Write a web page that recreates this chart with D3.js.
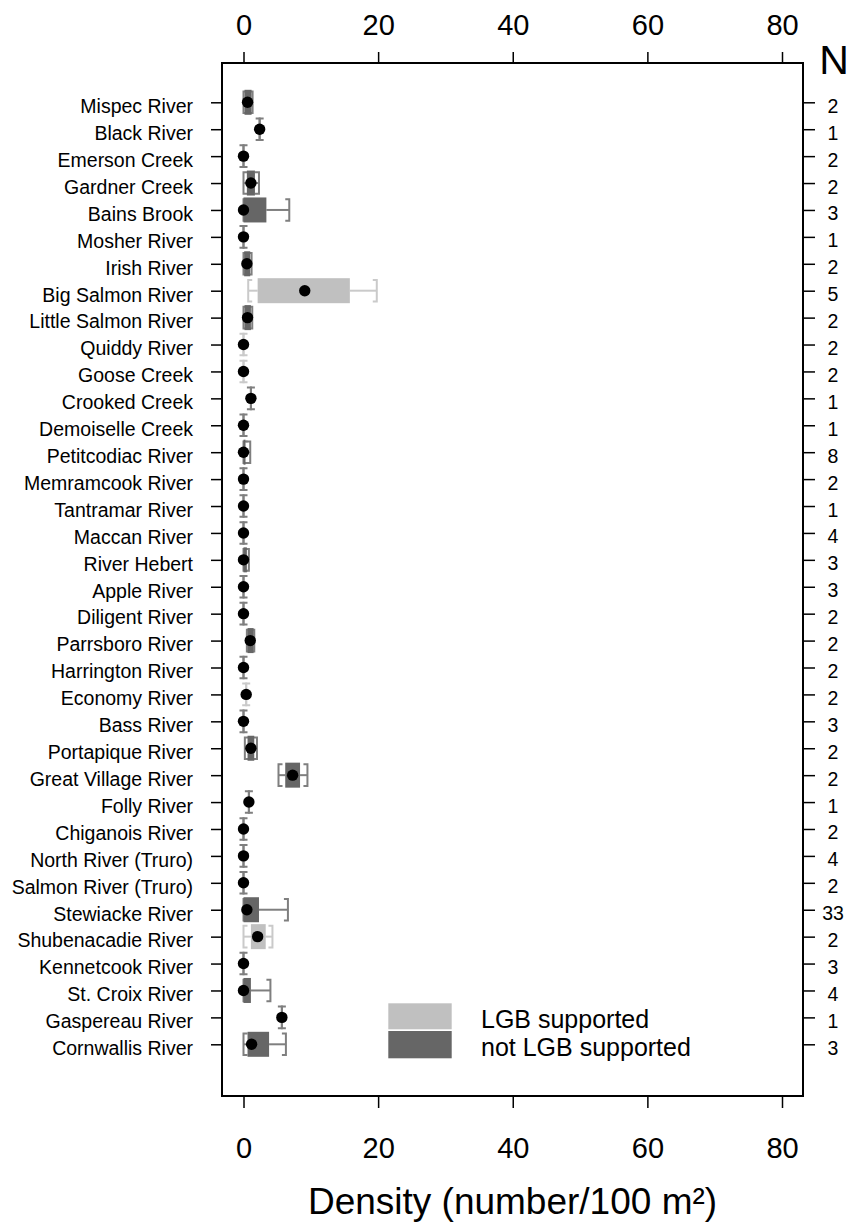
<!DOCTYPE html>
<html>
<head>
<meta charset="utf-8">
<script src="https://cdn.jsdelivr.net/npm/d3@7"></script>
<style>
  body { margin: 0; background: #fff; }
  svg { display: block; font-family: "Liberation Sans", Arial, sans-serif; }
</style>
</head>
<body>
<svg id="chart" width="851" height="1230"></svg>
<script>
// ---- data ----
const rivers = ["Mispec River","Black River","Emerson Creek","Gardner Creek","Bains Brook","Mosher River","Irish River","Big Salmon River","Little Salmon River","Quiddy River","Goose Creek","Crooked Creek","Demoiselle Creek","Petitcodiac River","Memramcook River","Tantramar River","Maccan River","River Hebert","Apple River","Diligent River","Parrsboro River","Harrington River","Economy River","Bass River","Portapique River","Great Village River","Folly River","Chiganois River","North River (Truro)","Salmon River (Truro)","Stewiacke River","Shubenacadie River","Kennetcook River","St. Croix River","Gaspereau River","Cornwallis River"];
const whiskerLow  = [0,   2.4, 0, 0,   0,   0, 0,   0.7,  0,   0, 0, 1.1, 0, 0,   0, 0, 0, 0,   0, 0, 0.5, 0, 0.4, 0, 0.2, 5.2, 0.8, 0, 0, 0, 0,   0,   0, 0,   5.7, 0];
const boxLow      = [0.15,2.4, 0, 0.5, 0,   0, 0.1, 2.1,  0.15,0, 0, 1.1, 0, 0,   0, 0, 0, 0,   0, 0, 0.6, 0, 0.4, 0, 0.6, 6.2, 0.8, 0, 0, 0, 0,   1.1, 0, 0,   5.7, 0.6];
const centre      = [0.6, 2.4, 0, 1.1, 0,   0, 0.5, 9.1,  0.6, 0, 0, 1.1, 0, 0,   0, 0, 0, 0,   0, 0, 1.0, 0, 0.4, 0, 1.1, 7.3, 0.8, 0, 0, 0, 0.5, 2.1, 0, 0,   5.7, 1.2];
const boxHigh     = [1.2, 2.4, 0, 1.7, 3.4, 0, 1.0, 15.8, 1.1, 0, 0, 1.1, 0, 0.3, 0, 0, 0, 0.5, 0, 0, 1.5, 0, 0.4, 0, 1.6, 8.4, 0.8, 0, 0, 0, 2.3, 3.3, 0, 1.1, 5.7, 3.8];
const whiskerHigh = [1.35,2.4, 0, 2.3, 6.8, 0, 1.2, 19.8, 1.3, 0, 0, 1.1, 0, 1.0, 0, 0, 0, 0.8, 0, 0, 1.6, 0, 0.4, 0, 2.0, 9.5, 0.8, 0, 0, 0, 6.6, 4.3, 0, 4.0, 5.7, 6.3];
const sampleN     = [2,1,2,2,3,1,2,5,2,2,2,1,1,8,2,1,4,3,3,2,2,2,2,3,2,2,1,2,4,2,33,2,3,4,1,3];
const lgbSupported= [0,0,0,0,0,0,0,1,0,1,1,0,0,0,0,0,0,0,0,0,0,0,1,0,0,0,0,0,0,0,0,1,0,0,0,0];
const xTicks = [0, 20, 40, 60, 80];
const legendLabels = ["LGB supported", "not LGB supported"];
const xTitle = "Density (number/100 m²)";

// ---- styles ----
const boxFill = ["#666666", "#c0c0c0"];     // [not supported, supported]
const lineCol = ["#7f7f7f", "#cacaca"];

const svg = d3.select("#chart");
const L = 222, R = 803, T = 63, B = 1096;

const x = d3.scaleLinear().domain([0, 80]).range([243.5, 782]);
const y = d3.scalePoint().domain(rivers).range([102.3, 1044.3]);

const rows = rivers.map((r, i) => ({
  name: r, lo: whiskerLow[i], q1: boxLow[i], c: centre[i], q3: boxHigh[i], hi: whiskerHigh[i],
  n: sampleN[i], g: lgbSupported[i]
}));

const boxH = 25, capH = 10.8, serif = 4;

// boxes, whiskers, caps
const g = svg.append("g");
rows.forEach(d => {
  const cy = y(d.name);
  const col = lineCol[d.g];
  g.append("line").attr("x1", x(d.lo)).attr("x2", x(d.q1)).attr("y1", cy).attr("y2", cy)
    .attr("stroke", col).attr("stroke-width", 2);
  g.append("line").attr("x1", x(d.q3)).attr("x2", x(d.hi)).attr("y1", cy).attr("y2", cy)
    .attr("stroke", col).attr("stroke-width", 2);
  g.append("path")
    .attr("d", `M${x(d.lo) + serif},${cy - capH}H${x(d.lo)}V${cy + capH}H${x(d.lo) + serif}`)
    .attr("fill", "none").attr("stroke", col).attr("stroke-width", 2);
  g.append("path")
    .attr("d", `M${x(d.hi) - serif},${cy - capH}H${x(d.hi)}V${cy + capH}H${x(d.hi) - serif}`)
    .attr("fill", "none").attr("stroke", col).attr("stroke-width", 2);
  if (d.q3 > d.q1) {
    g.append("rect").attr("x", x(d.q1)).attr("width", x(d.q3) - x(d.q1))
      .attr("y", cy - boxH / 2).attr("height", boxH)
      .attr("fill", boxFill[d.g]);
  }
});

// points
svg.append("g").selectAll("circle").data(rows).join("circle")
  .attr("cx", d => x(d.c)).attr("cy", d => y(d.name)).attr("r", 5.7).attr("fill", "#000");

// frame
svg.append("rect").attr("x", L).attr("y", T).attr("width", R - L).attr("height", B - T)
  .attr("fill", "none").attr("stroke", "#000").attr("stroke-width", 2);

// axes
const styleAxis = sel => {
  sel.select(".domain").remove();
  sel.selectAll(".tick line").attr("stroke", "#000").attr("stroke-width", 1.5);
};
const topAx = svg.append("g").attr("transform", `translate(0,${T})`)
  .call(d3.axisTop(x).tickValues(xTicks).tickSize(11).tickFormat(d3.format("d")));
styleAxis(topAx);
topAx.selectAll(".tick text").attr("y", -28.5).attr("dy", 0).attr("font-size", 29).attr("fill", "#000");

const botAx = svg.append("g").attr("transform", `translate(0,${B})`)
  .call(d3.axisBottom(x).tickValues(xTicks).tickSize(12).tickFormat(d3.format("d")));
styleAxis(botAx);
botAx.selectAll(".tick text").attr("y", 62).attr("dy", 0).attr("font-size", 29).attr("fill", "#000");

const leftAx = svg.append("g").attr("transform", `translate(${L},0)`)
  .call(d3.axisLeft(y).tickSize(11));
styleAxis(leftAx);
leftAx.selectAll(".tick text").attr("x", -29).attr("dy", 10.3).attr("font-size", 19.5).attr("fill", "#000");

const nByName = new Map(rows.map(d => [d.name, d.n]));
const rightAx = svg.append("g").attr("transform", `translate(${R},0)`)
  .call(d3.axisRight(y).tickSize(12).tickFormat(d => nByName.get(d)));
styleAxis(rightAx);
rightAx.selectAll(".tick text").attr("x", 30).attr("dy", 10).attr("text-anchor", "middle")
  .attr("font-size", 19.5).attr("fill", "#000");

svg.append("text").attr("x", 834).attr("y", 74).attr("text-anchor", "middle")
  .attr("font-size", 41).text("N");

// legend
const legY = [1003.3, 1031];
const legendOrder = [1, 0];
legendLabels.forEach((lab, i) => {
  svg.append("rect").attr("x", 388.3).attr("y", legY[i]).attr("width", 63.4)
    .attr("height", i === 0 ? 26 : 27.3).attr("fill", boxFill[legendOrder[i]]);
  svg.append("text").attr("x", 481).attr("y", legY[i] + 25).attr("font-size", 25).text(lab);
});

// title
svg.append("text").attr("x", 512.5).attr("y", 1214).attr("text-anchor", "middle")
  .attr("font-size", 37).text(xTitle);
</script>
</body>
</html>
